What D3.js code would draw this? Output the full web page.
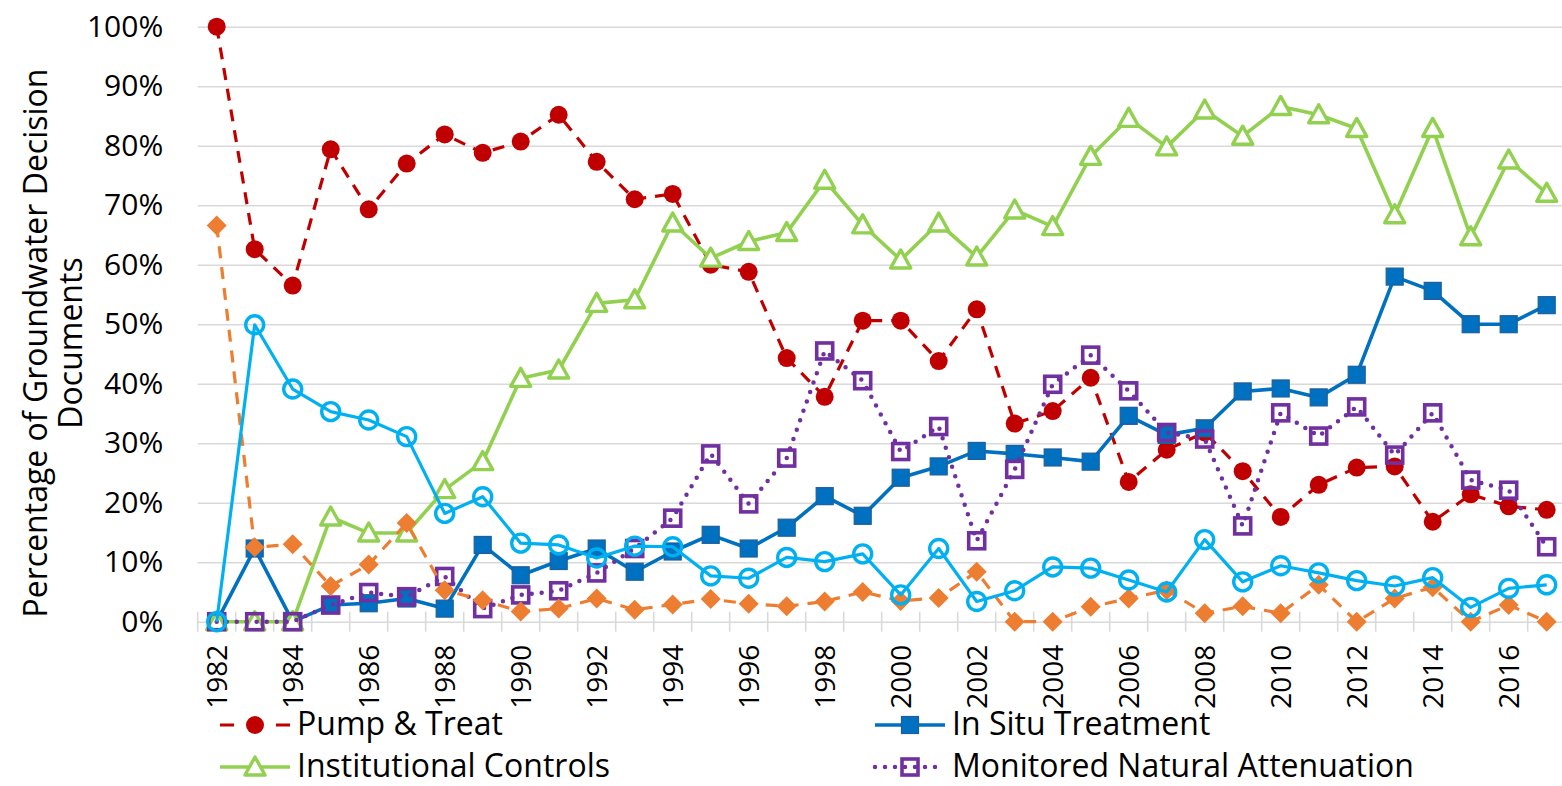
<!DOCTYPE html>
<html>
<head>
<meta charset="utf-8">
<script src="https://cdn.jsdelivr.net/npm/d3@7/dist/d3.min.js"></script>
<style>
    body{margin:0;background:#fff;}
    svg{display:block;}
</style>
</head>
<body>
<svg id="chart" width="1562" height="786"></svg>
<script>
var years = [1982,1983,1984,1985,1986,1987,1988,1989,1990,1991,1992,1993,1994,1995,1996,1997,1998,1999,
    2000,2001,2002,2003,2004,2005,2006,2007,2008,2009,2010,2011,2012,2013,2014,2015,2016,2017];
var xLabels = [1982,1984,1986,1988,1990,1992,1994,1996,1998,2000,2002,2004,2006,2008,2010,2012,2014,2016];
var yTicks = [0,10,20,30,40,50,60,70,80,90,100];

// percent of decision documents per year
var pumpTreat = [100,62.6,56.5,79.4,69.3,77.0,81.9,78.8,80.7,85.2,77.3,71.0,71.9,60.0,58.8,44.3,37.8,50.6,
    50.6,43.8,52.5,33.3,35.4,41.0,23.5,28.9,31.8,25.3,17.6,23.0,25.9,26.1,16.8,21.4,19.4,18.8];
var inSitu = [0,12.3,0,2.8,3.1,3.9,2.2,12.9,7.8,10.2,12.3,8.4,11.8,14.6,12.3,15.8,21.1,17.8,
    24.2,26.1,28.7,28.2,27.6,26.9,34.6,31.4,32.5,38.7,39.2,37.7,41.5,58.0,55.6,50.0,50.0,53.2];
var institutional = [0,0,0,17.6,14.9,14.9,22.2,26.9,40.9,42.3,53.5,54.1,67.0,61.1,63.9,65.4,74.2,66.7,
    60.8,67.0,61.3,69.2,66.4,78.2,84.6,79.8,86.0,81.6,86.6,85.2,82.9,68.4,82.9,64.7,77.6,72.0];
var mna = [0,0,0,2.8,4.9,4.2,7.6,2.2,4.5,5.2,8.2,12.3,17.4,28.2,19.8,27.5,45.5,40.5,
    28.6,32.8,13.6,25.6,39.9,44.8,38.8,31.8,30.7,16.1,35.1,31.2,36.1,28.0,35.1,23.8,22.1,12.6];
// the last two series have no legend entry visible in the figure
var orangeSeries = [66.6,12.5,13.0,6.0,9.6,16.6,5.3,3.6,1.7,2.2,3.9,2.0,2.9,3.8,3.0,2.6,3.4,5.0,
    3.5,4.0,8.4,0,0,2.5,3.9,5.3,1.4,2.6,1.4,6.2,0,3.9,5.8,0,2.8,0];
var cyanSeries = [0,49.9,39.1,35.3,33.9,31.1,18.2,21.0,13.2,12.9,10.7,12.7,12.6,7.7,7.3,10.8,10.1,11.4,
    4.5,12.3,3.4,5.2,9.2,9.0,7.0,5.0,13.8,6.7,9.4,8.2,6.9,6.0,7.4,2.4,5.6,6.2];

var FONT = "'Open Sans', 'DejaVu Sans', sans-serif";

function Chart(svgId){
    this.svg = d3.select(svgId);
    this.width = 1562;
    this.left = 197.7;
    this.right = 1565.7;
    this.top = 26.7;
    this.bottom = 621.7;
    this.x = d3.scalePoint().domain(years).range([this.left, this.right]).padding(0.5);
    this.band = d3.scaleBand().domain(years).range([this.left, this.right]);
    this.y = d3.scaleLinear().domain([0, 100]).range([this.bottom, this.top]);

    // draw order follows the original series order
    this.series = [
        {name:"Pump & Treat", values:pumpTreat, color:"#C00000", dash:"12,9", width:3.2, marker:"dot"},
        {name:"In Situ Treatment", values:inSitu, color:"#0070C0", dash:null, width:3.6, marker:"square"},
        {name:"Institutional Controls", values:institutional, color:"#92D050", dash:null, width:3.6, marker:"triangle"},
        {name:"Monitored Natural Attenuation", values:mna, color:"#7030A0", dash:"0,10", width:4.5, marker:"openSquare", cap:"round"},
        {name:null, values:orangeSeries, color:"#ED7D31", dash:"12,9", width:3.2, marker:"diamond"},
        {name:null, values:cyanSeries, color:"#00B0F0", dash:null, width:3.2, marker:"ring"}
    ];
}

Chart.prototype = {

    // drawAxes, gridlines + percent labels + year labels
    drawAxes:function(){
        var self = this;
        var gy = this.svg.append("g")
            .attr("transform", "translate(" + this.left + ",0)")
            .call(d3.axisLeft(this.y)
                .tickValues(yTicks)
                .tickSize(-(this.width - this.left))
                .tickPadding(34.5)
                .tickFormat(function(d){ return d + "%"; }));
        gy.attr("font-family", FONT).attr("font-size", 30);
        gy.select(".domain").remove();
        gy.selectAll(".tick line").attr("stroke", "#d9d9d9").attr("stroke-width", 1.6);
        gy.selectAll(".tick text").attr("fill", "#000");

        // tick marks sit between the categories
        var edges = years.map(function(d){ return self.band(d); }).concat([this.band.range()[1]]);
        this.svg.append("g").selectAll("line")
            .data(edges)
            .join("line")
            .attr("x1", function(d){ return d; })
            .attr("x2", function(d){ return d; })
            .attr("y1", this.bottom - 10)
            .attr("y2", this.bottom + 10)
            .attr("stroke", "#d9d9d9")
            .attr("stroke-width", 1.6);

        var gx = this.svg.append("g")
            .attr("transform", "translate(0," + this.bottom + ")")
            .call(d3.axisBottom(this.x).tickValues(xLabels).tickSize(0));
        gx.attr("font-family", FONT).attr("font-size", 28);
        gx.select(".domain").remove();
        gx.selectAll(".tick text")
            .attr("fill", "#000")
            .attr("transform", "rotate(-90)")
            .attr("x", -23)
            .attr("y", 0)
            .attr("dy", "0.36em")
            .attr("text-anchor", "end");

        // axis title, two lines
        var title = ["Percentage of Groundwater Decision", "Documents"];
        this.svg.append("g").selectAll("text")
            .data(title)
            .join("text")
            .attr("transform", function(d, i){ return "translate(" + (47 + i * 35) + ",343) rotate(-90)"; })
            .attr("text-anchor", "middle")
            .attr("font-family", FONT)
            .attr("font-size", 32)
            .text(function(d){ return d; });
    },

    drawMarker:function(sel, s){
        if (s.marker === "dot") {
            sel.append("circle").attr("r", 9).attr("fill", s.color);
        } else if (s.marker === "ring") {
            sel.append("circle").attr("r", 9).attr("fill", "none").attr("stroke", s.color).attr("stroke-width", 3.4);
        } else if (s.marker === "square") {
            sel.append("rect").attr("x", -8.5).attr("y", -8.5).attr("width", 17).attr("height", 17)
                .attr("fill", s.color).attr("stroke", "#1f5e9a").attr("stroke-width", 1.2);
        } else if (s.marker === "openSquare") {
            sel.append("rect").attr("x", -8).attr("y", -8).attr("width", 16).attr("height", 16)
                .attr("fill", "none").attr("stroke", s.color).attr("stroke-width", 3.6);
        } else if (s.marker === "triangle") {
            sel.append("path").attr("d", "M0,-10L10,8L-10,8Z")
                .attr("fill", "#fff").attr("stroke", s.color).attr("stroke-width", 3.4).attr("stroke-linejoin", "round");
        } else if (s.marker === "diamond") {
            sel.append("path").attr("d", "M0,-10L10,0L0,10L-10,0Z").attr("fill", s.color);
        }
    },

    // drawSeries, one line + markers per series
    drawSeries:function(){
        var self = this;
        var line = d3.line()
            .x(function(d, i){ return self.x(years[i]); })
            .y(function(d){ return self.y(d); });

        this.series.forEach(function(s){
            var g = self.svg.append("g");
            g.append("path")
                .attr("d", line(s.values))
                .attr("fill", "none")
                .attr("stroke", s.color)
                .attr("stroke-width", s.width)
                .attr("stroke-dasharray", s.dash)
                .attr("stroke-linecap", s.cap || "butt")
                .attr("stroke-linejoin", "round");
            g.selectAll("g.m")
                .data(s.values)
                .join("g")
                .attr("class", "m")
                .attr("transform", function(d, i){ return "translate(" + self.x(years[i]) + "," + self.y(d) + ")"; })
                .each(function(){ self.drawMarker(d3.select(this), s); });
        });
    },

    drawLegend:function(){
        var self = this;
        var cols = [220, 875], rows = [725, 767];
        var items = this.series.filter(function(s){ return s.name; });
        items.forEach(function(s, i){
            var x0 = cols[i % 2], y0 = rows[Math.floor(i / 2)];
            var g = self.svg.append("g").attr("transform", "translate(" + x0 + "," + y0 + ")");
            g.append("line")
                .attr("x1", 0).attr("x2", 70).attr("y1", 0).attr("y2", 0)
                .attr("stroke", s.color)
                .attr("stroke-width", s.width)
                .attr("stroke-dasharray", s.dash === "12,9" ? "14,42" : s.dash)
                .attr("stroke-linecap", s.cap || "butt");
            self.drawMarker(g.append("g").attr("transform", "translate(35,0)"), s);
            g.append("text")
                .attr("x", 77)
                .attr("y", 10)
                .attr("font-family", FONT)
                .attr("font-size", 32)
                .text(s.name);
        });
    }
};

var chart = new Chart("#chart");
chart.drawAxes();
chart.drawSeries();
chart.drawLegend();
</script>
</body>
</html>
